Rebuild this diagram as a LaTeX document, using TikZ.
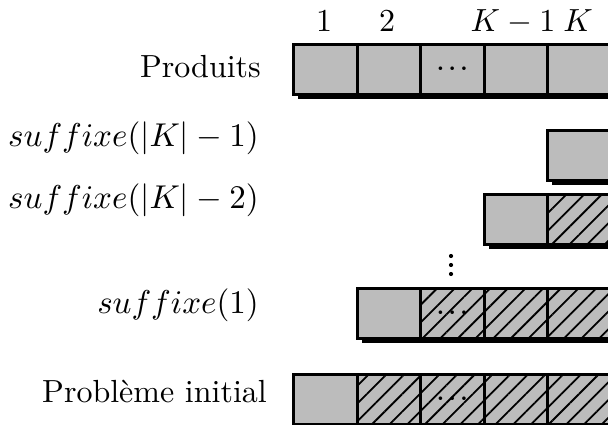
\documentclass[tikz,border=0pt]{standalone}
\usetikzlibrary{patterns.meta}
\definecolor{cellgray}{RGB}{188,188,188}
\newcommand\bigtxt[1]{\scalebox{3.2}{#1}}
\newcommand\bigmath[1]{\scalebox{3.3}{#1}}
\newcommand\celldotstxt{\scalebox{2.3}{\boldmath$\cdots$}}
\tikzset{
  cell/.style={draw=black, line width=3pt, fill=cellgray, minimum width=63.5pt,
    minimum height=50pt, inner sep=0pt, anchor=north west},
  hatch/.style={postaction={pattern={Lines[angle=45,distance=12.5pt,line width=1.8pt]},
    pattern color=black}},
  lbl/.style={anchor=base east, inner sep=0pt},
  toplbl/.style={anchor=base, inner sep=0pt},
  celldots/.style={inner sep=0pt},
  shadow/.style={fill=black},
  vdot/.style={fill=black},
}
\begin{document}
\begin{tikzpicture}[x=1pt,y=-1pt]
\useasboundingbox (0,0) rectangle (608,425);
\clip (0,0) rectangle (608,425);
% column left edges: 292, 355.5, 419, 482.5, 546
% shadows
\fill[shadow] (298,93) rectangle (616,99);
\fill[shadow] (552,179) rectangle (616,185);
\fill[shadow] (488.5,243) rectangle (616,249);
\fill[shadow] (361.5,337) rectangle (616,343);
\fill[shadow] (298,423) rectangle (616,429);
% Produits row
\foreach \i in {1,...,5}{
  \node[cell] (P\i) at ({292+(\i-1)*63.5},43) {};
}
\node[celldots] (dP) at (P3.center) {\celldotstxt};
% suffixe(|K|-1)
\node[cell] (A5) at (546,129) {};
% suffixe(|K|-2)
\node[cell] (B4) at (482.5,193) {};
\node[cell,hatch] (B5) at (546,193) {};
% suffixe(1)
\node[cell] (C2) at (355.5,287) {};
\foreach \i in {3,4,5}{
  \node[cell,hatch] (C\i) at ({292+(\i-1)*63.5},287) {};
}
\node[celldots] (dC) at (C3.center) {\celldotstxt};
% Probleme initial
\node[cell] (D1) at (292,373) {};
\foreach \i in {2,...,5}{
  \node[cell,hatch] (D\i) at ({292+(\i-1)*63.5},373) {};
}
\node[celldots] (dD) at (D3.center) {\celldotstxt};
% vertical dots
\fill[vdot] (451,256) circle (2.1);
\fill[vdot] (451,265) circle (2.1);
\fill[vdot] (451,274) circle (2.1);
% top labels
\node[toplbl] (t1) at (324,32) {\bigtxt{1}};
\node[toplbl] (t2) at (387,32) {\bigtxt{2}};
\node[toplbl] (tk1) at (513,32) {\bigtxt{$K-1$}};
\node[toplbl] (tk) at (578,32) {\bigtxt{$K$}};
% row labels
\node[lbl] (lP) at (261,78) {\bigtxt{Produits}};
\node[lbl] (lA) at (259,147) {\bigmath{$suffixe(|K|-1)$}};
\node[lbl] (lB) at (259,208) {\bigmath{$suffixe(|K|-2)$}};
\node[lbl] (lC) at (259,313) {\bigmath{$suffixe(1)$}};
\node[lbl] (lD) at (267,402) {\bigtxt{Problème initial}};
\end{tikzpicture}
\end{document}
